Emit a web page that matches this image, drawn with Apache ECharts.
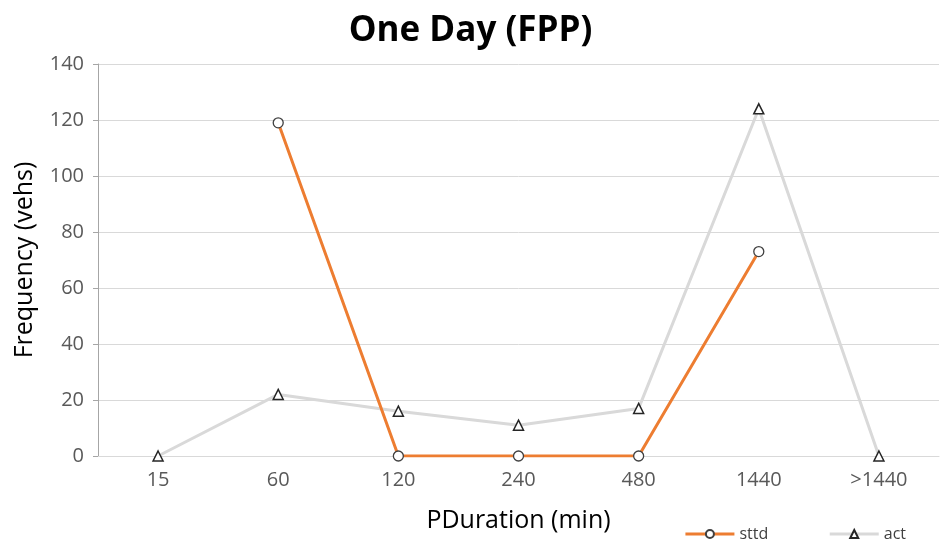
<!DOCTYPE html>
<html>
<head>
<meta charset="utf-8">
<script src="https://cdn.jsdelivr.net/npm/echarts@6/dist/echarts.min.js"></script>
<style>
  html, body { margin: 0; padding: 0; background: #fff; }
  #chart { width: 941px; height: 551px; }
</style>
</head>
<body>
<div id="chart"></div>
<script>
const categories = ['15', '60', '120', '240', '480', '1440', '>1440'];
const sttd = [null, 119, 0, 0, 0, 73, null];
const act = [0, 22, 16, 11, 17, 124, 0];
const yTicks = [0, 140, 20]; // min, max, interval

const font = '"Open Sans", "Noto Sans", sans-serif';
const myChart = echarts.init(document.getElementById('chart'));

const option = {
  animation: false,
  textStyle: { fontFamily: font },
  title: {
    text: 'One Day (FPP)',
    left: 'center',
    top: 9,
    textStyle: { fontSize: 35, fontWeight: 'bold', color: '#000', fontFamily: font }
  },
  grid: { left: 98, right: 2, top: 64, bottom: 95, outerBoundsMode: 'none' },
  legend: {
    right: 30,
    bottom: 4,
    itemWidth: 49,
    itemHeight: 10,
    itemGap: 60,
    textStyle: { fontSize: 16, color: '#404040' },
    lineStyle: { width: 3 },
    data: ['sttd', 'act']
  },
  xAxis: {
    type: 'category',
    data: categories,
    name: 'PDuration (min)',
    nameLocation: 'middle',
    nameGap: 52,
    nameTextStyle: { fontSize: 25, color: '#000' },
    axisLine: { lineStyle: { color: '#d9d9d9', width: 1 } },
    axisTick: { show: false },
    axisLabel: { fontSize: 20, color: '#595959', margin: 14 }
  },
  yAxis: {
    type: 'value',
    min: yTicks[0],
    max: yTicks[1],
    interval: yTicks[2],
    name: 'Frequency (vehs)',
    nameLocation: 'middle',
    nameGap: 61,
    nameTextStyle: { fontSize: 25, color: '#000' },
    axisLine: { show: true, lineStyle: { color: '#a6a6a6' } },
    axisTick: { show: true, length: 5, lineStyle: { color: '#a6a6a6' } },
    axisLabel: { fontSize: 20, color: '#595959', margin: 14 },
    splitLine: { lineStyle: { color: '#d9d9d9', width: 1 } }
  },
  series: [
    {
      name: 'sttd',
      type: 'line',
      data: sttd,
      symbol: 'circle',
      symbolSize: 10,
      showAllSymbol: true,
      lineStyle: { color: '#ed7d31', width: 3 },
      itemStyle: { color: '#fff', borderColor: '#404040', borderWidth: 1.3 },
      z: 3
    },
    {
      name: 'act',
      type: 'line',
      data: act,
      symbol: 'triangle',
      symbolSize: 10,
      showAllSymbol: true,
      lineStyle: { color: '#d9d9d9', width: 3 },
      itemStyle: { color: '#fff', borderColor: '#262626', borderWidth: 1.5 },
      z: 2
    }
  ]
};
myChart.setOption(option);
</script>
</body>
</html>
